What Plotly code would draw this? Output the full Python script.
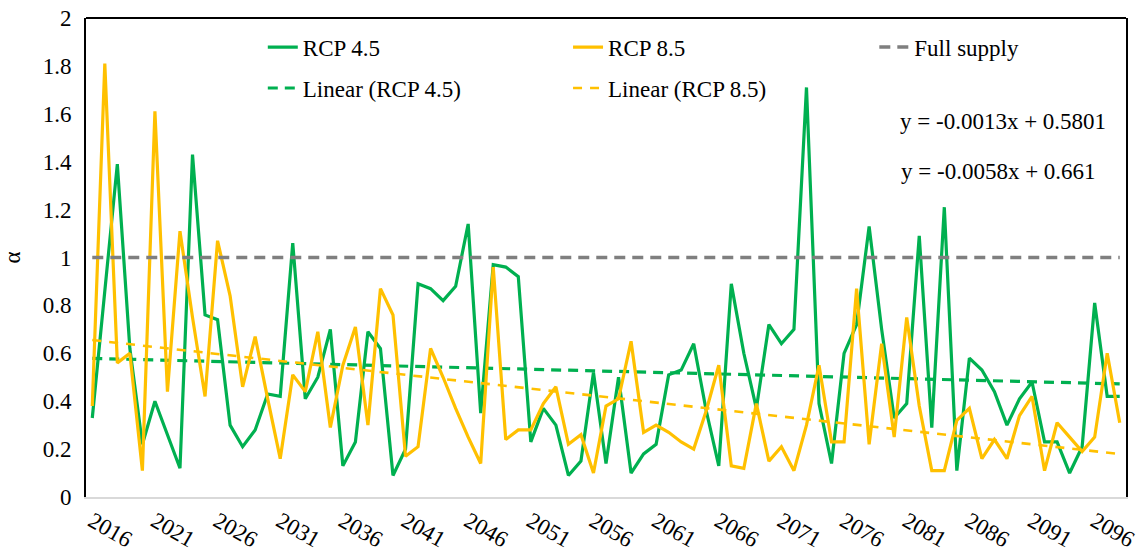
import plotly.graph_objects as go

years = list(range(2016, 2099))
tick_years = list(range(2016, 2097, 5))

rcp45 = [0.33, 0.85, 1.39, 0.62, 0.22, 0.40, 0.26, 0.12, 1.43, 0.76,
         0.74, 0.30, 0.21, 0.28, 0.43, 0.42, 1.06, 0.41, 0.50, 0.70,
         0.13, 0.23, 0.69, 0.62, 0.09, 0.20, 0.89, 0.87, 0.82, 0.88,
         1.14, 0.35, 0.97, 0.96, 0.92, 0.23, 0.37, 0.30, 0.09, 0.15,
         0.52, 0.14, 0.50, 0.10, 0.18, 0.22, 0.51, 0.53, 0.64, 0.36,
         0.13, 0.89, 0.60, 0.37, 0.72, 0.64, 0.70, 1.71, 0.39, 0.14,
         0.60, 0.72, 1.13, 0.70, 0.33, 0.39, 1.09, 0.29, 1.21, 0.11,
         0.58, 0.53, 0.44, 0.30, 0.41, 0.48, 0.23, 0.23, 0.10, 0.21,
         0.81, 0.42, 0.42]

rcp85 = [0.38, 1.81, 0.56, 0.60, 0.11, 1.61, 0.44, 1.11, 0.75, 0.42,
         1.07, 0.84, 0.46, 0.67, 0.41, 0.16, 0.51, 0.44, 0.69, 0.29,
         0.55, 0.71, 0.30, 0.87, 0.76, 0.17, 0.21, 0.62, 0.50, 0.37,
         0.25, 0.14, 0.96, 0.24, 0.28, 0.28, 0.39, 0.46, 0.22, 0.26,
         0.10, 0.38, 0.41, 0.65, 0.27, 0.30, 0.27, 0.23, 0.20, 0.36,
         0.55, 0.13, 0.12, 0.39, 0.15, 0.21, 0.11, 0.30, 0.55, 0.23,
         0.23, 0.87, 0.22, 0.64, 0.25, 0.75, 0.38, 0.11, 0.11, 0.32,
         0.37, 0.16, 0.24, 0.16, 0.34, 0.42, 0.11, 0.31, 0.25, 0.19,
         0.25, 0.60, 0.31]

full_supply = 1.0
trend45_coef = [-0.0013, 0.5801]
trend85_coef = [-0.0058, 0.661]
eq_labels = ["y = -0.0013x + 0.5801", "y = -0.0058x + 0.661"]

y_ticks = [0, 0.2, 0.4, 0.6, 0.8, 1, 1.2, 1.4, 1.6, 1.8, 2]
y_ticktext = ["0", "0.2", "0.4", "0.6", "0.8", "1", "1.2", "1.4", "1.6", "1.8", "2"]

GREEN = "#00B050"
YELLOW = "#FFC000"
GRAY = "#7F7F7F"
FONT = "Liberation Serif, Times New Roman, Times, serif"

idx = [y - years[0] + 1 for y in years]
trend45 = [trend45_coef[0] * i + trend45_coef[1] for i in idx]
trend85 = [trend85_coef[0] * i + trend85_coef[1] for i in idx]

fig = go.Figure()
fig.add_trace(go.Scatter(x=years, y=rcp45, mode="lines", name="RCP 4.5",
                         line=dict(color=GREEN, width=3.2),
                         legend="legend", legendgroup="a"))
fig.add_trace(go.Scatter(x=years, y=trend45, mode="lines", name="Linear (RCP 4.5)",
                         line=dict(color=GREEN, width=3.2, dash="10px,7px"),
                         legend="legend", legendgroup="b"))
fig.add_trace(go.Scatter(x=years, y=rcp85, mode="lines", name="RCP 8.5",
                         line=dict(color=YELLOW, width=3.2),
                         legend="legend2", legendgroup="c"))
fig.add_trace(go.Scatter(x=years, y=trend85, mode="lines", name="Linear (RCP 8.5)",
                         line=dict(color=YELLOW, width=2.6, dash="9px,8px"),
                         legend="legend2", legendgroup="d"))
fig.add_trace(go.Scatter(x=[years[0], years[-1]], y=[full_supply, full_supply],
                         mode="lines", name="Full supply",
                         line=dict(color=GRAY, width=3.5, dash="11px,7px"),
                         legend="legend3", legendgroup="e"))

leg_common = dict(orientation="v", xanchor="left", yanchor="top", y=0.984,
                  font=dict(family=FONT, size=23, color="black"),
                  bgcolor="rgba(0,0,0,0)", tracegroupgap=8,
                  traceorder="grouped")
fig.update_layout(
    width=1141, height=557,
    margin=dict(l=86, r=15, t=18, b=60, autoexpand=False),
    paper_bgcolor="white", plot_bgcolor="white",
    font=dict(family=FONT, size=23, color="black"),
    legend=dict(x=0.170, **leg_common),
    legend2=dict(x=0.4635, **leg_common),
    legend3=dict(x=0.758, **leg_common),
    xaxis=dict(range=[years[0] - 0.5, years[-1] + 0.5], tickvals=tick_years,
               ticktext=[str(t) for t in tick_years], tickangle=30,
               showgrid=False, zeroline=False, showline=True, automargin=False,
               linecolor="#D9D9D9", linewidth=2, ticks="",
               tickfont=dict(family=FONT, size=23, color="black")),
    yaxis=dict(range=[0, 2], tickvals=y_ticks, ticktext=y_ticktext,
               showgrid=False, zeroline=False, showline=True, mirror=True,
               linecolor="black", linewidth=2, ticks="", automargin=False,
               ticklabelstandoff=8,
               tickfont=dict(family=FONT, size=23, color="black"),
               title=dict(text="α", standoff=20, font=dict(family=FONT, size=23))),
    shapes=[dict(type="line", xref="paper", yref="paper", x0=0, x1=1, y0=1, y1=1,
                 line=dict(color="black", width=2))],
    annotations=[
        dict(text=eq_labels[0], xref="paper", yref="paper", x=0.882, y=0.7835,
             showarrow=False, xanchor="center", yanchor="middle",
             font=dict(family=FONT, size=23, color="black")),
        dict(text=eq_labels[1], xref="paper", yref="paper", x=0.877, y=0.679,
             showarrow=False, xanchor="center", yanchor="middle",
             font=dict(family=FONT, size=23, color="black")),
    ],
)

fig.write_html("out.html")
